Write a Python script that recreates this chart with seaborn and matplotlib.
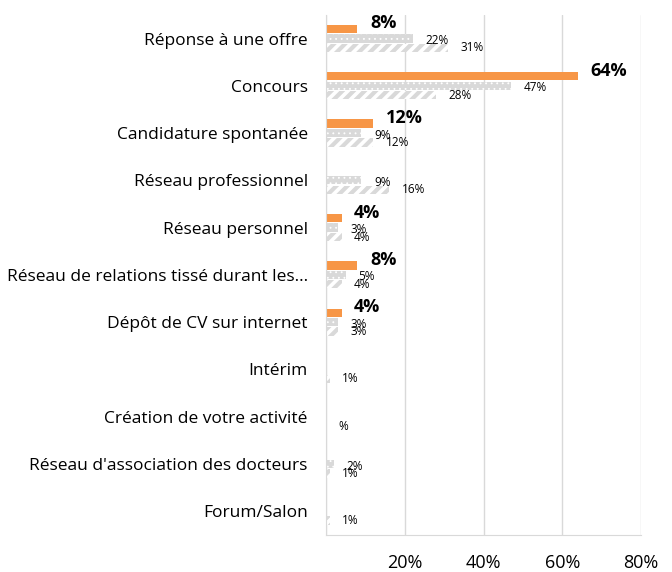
import numpy as np
import pandas as pd
import matplotlib
matplotlib.use("Agg")
import matplotlib.pyplot as plt
import seaborn as sns

categories = [
    "Réponse à une offre",
    "Concours",
    "Candidature spontanée",
    "Réseau professionnel",
    "Réseau personnel",
    "Réseau de relations tissé durant les…",
    "Dépôt de CV sur internet",
    "Intérim",
    "Création de votre activité",
    "Réseau d'association des docteurs",
    "Forum/Salon",
]
series = ["Série 1", "Série 2", "Série 3"]
s1 = [8, 64, 12, np.nan, 4, 8, 4, np.nan, np.nan, np.nan, np.nan]
s2 = [22, 47, 9, 9, 3, 5, 3, np.nan, np.nan, 2, np.nan]
s3 = [31, 28, 12, 16, 4, 4, 3, 1, 0, 1, 1]
s3_labels = ["31%", "28%", "12%", "16%", "4%", "4%", "3%", "1%", "%", "1%", "1%"]
xticks = [0, 20, 40, 60, 80]
xticklabels = ["", "20%", "40%", "60%", "80%"]

df = pd.DataFrame({
    "categorie": categories * 3,
    "serie": [series[0]] * 11 + [series[1]] * 11 + [series[2]] * 11,
    "valeur": s1 + s2 + s3,
})
df["valeur"] = df["valeur"].fillna(0)

sns.set_style("white")
plt.rcParams["font.family"] = ["Open Sans", "DejaVu Sans"]
plt.rcParams["text.color"] = "black"
plt.rcParams["xtick.labelcolor"] = "black"
plt.rcParams["ytick.labelcolor"] = "black"

fig = plt.figure(figsize=(6.72, 5.72), dpi=100)
ax = fig.add_axes([0.485, 0.065, 0.469, 0.909])

sns.barplot(data=df, y="categorie", x="valeur", hue="serie", order=categories,
            hue_order=series, orient="h", width=0.6, gap=0.12, saturation=1,
            palette=["#F79646", "#D9D9D9", "#FFFFFF"], legend=False, ax=ax,
            errorbar=None)

c1, c2, c3 = ax.containers[0], ax.containers[1], ax.containers[2]
for p in c1:
    p.set_linewidth(0)
for p in c2:
    p.set_edgecolor("white")
    p.set_linewidth(0)
    p.set_hatch("...")
    if hasattr(p, "set_hatch_linewidth"):
        p.set_hatch_linewidth(0.6)
for p in c3:
    p.set_facecolor("white")
    p.set_edgecolor("#D9D9D9")
    p.set_linewidth(0)
    p.set_hatch("///")
    if hasattr(p, "set_hatch_linewidth"):
        p.set_hatch_linewidth(3.0)

def label(cont, vals, texts, dy, size, weight):
    for p, v, t in zip(cont, vals, texts):
        if np.isnan(v):
            continue
        y = p.get_y() + p.get_height() / 2
        ax.annotate(t, xy=(v, y), xytext=(9, dy), textcoords="offset points",
                    ha="left", va="center", fontsize=size, fontweight=weight,
                    color="black")

label(c1, s1, [f"{v:.0f}%" if not np.isnan(v) else "" for v in s1], 4, 13, "bold")
label(c2, s2, [f"{v:.0f}%" if not np.isnan(v) else "" for v in s2], -1.5, 8.5, "normal")
label(c3, s3, s3_labels, 0, 8.5, "normal")

ax.set_xlim(0, 80)
ax.set_xticks(xticks)
ax.set_xticklabels(xticklabels, fontsize=13)
ax.xaxis.grid(True, color="#D9D9D9", linewidth=1)
ax.set_axisbelow(True)
ax.tick_params(axis="x", length=7, color="#D9D9D9", pad=7)
ax.tick_params(axis="y", length=0, labelsize=12.5, pad=13)
ax.set_xlabel("")
ax.set_ylabel("")
for s in ["top", "right"]:
    ax.spines[s].set_visible(False)
for s in ["left", "bottom"]:
    ax.spines[s].set_color("#D9D9D9")

fig.savefig("out.png", dpi=100)
